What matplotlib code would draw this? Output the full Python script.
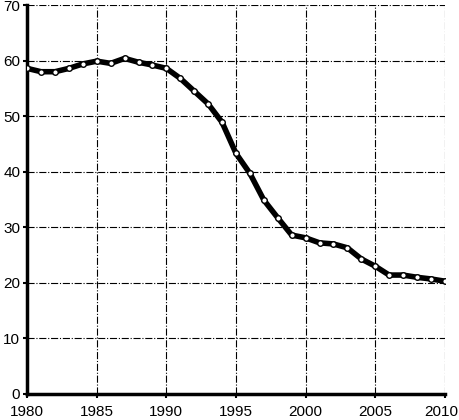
import matplotlib.pyplot as plt
from matplotlib.transforms import ScaledTranslation

plt.rcParams["font.family"] = ["Liberation Sans", "DejaVu Sans"]

years = list(range(1980, 2011))
values = [58.6, 58.0, 58.0, 58.6, 59.4, 59.9, 59.5, 60.4, 59.7, 59.2,
          58.6, 56.8, 54.5, 52.2, 48.9, 43.3, 39.7, 34.9, 31.7, 28.6,
          28.1, 27.2, 27.0, 26.3, 24.3, 23.0, 21.4, 21.4, 21.0, 20.7,
          20.3]
xticks = [1980, 1985, 1990, 1995, 2000, 2005, 2010]
yticks = [0, 10, 20, 30, 40, 50, 60, 70]

fig = plt.figure(figsize=(4.6, 4.2), dpi=100)
ax = fig.add_axes([0.059, 0.062, 0.908, 0.926])

ax.plot(years, values, color='black', linewidth=4, marker='o',
        markersize=4, markerfacecolor='white', markeredgecolor='black',
        markeredgewidth=1.0, zorder=3)

ax.set_xlim(1980, 2010)
ax.set_ylim(0, 70)
ax.set_xticks(xticks)
ax.set_yticks(yticks)
ax.grid(True, color='black', linestyle='-.', linewidth=0.8)

for s in ['top', 'right']:
    ax.spines[s].set_visible(False)
ax.spines['left'].set_linewidth(2.5)
ax.spines['bottom'].set_linewidth(2.5)
ax.tick_params(axis='both', labelsize=11, length=3, width=1.5)
ax.tick_params(axis='x', pad=5)
ax.tick_params(axis='y', pad=2)

# nudge the last year label so it stays inside the figure
last = ax.get_xticklabels()[-1]
last.set_transform(last.get_transform() + ScaledTranslation(-4 / 100, 0, fig.dpi_scale_trans))

plt.savefig('out.png', dpi=100)
